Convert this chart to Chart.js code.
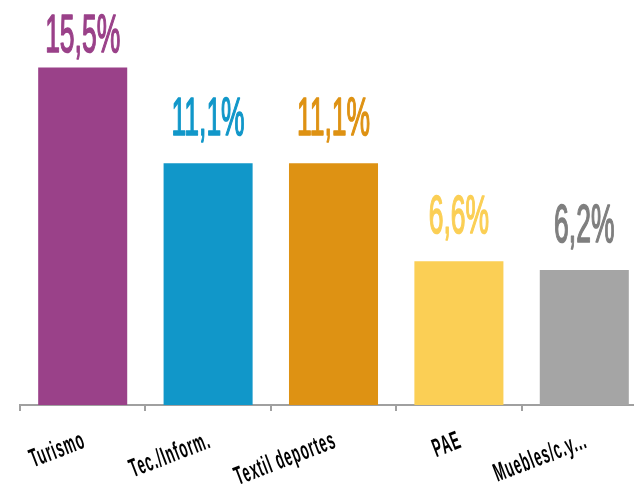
<!DOCTYPE html>
<html>
<head>
<meta charset="utf-8">
<script src="https://cdn.jsdelivr.net/npm/chart.js@4/dist/chart.umd.min.js"></script>
<style>
  html, body { margin: 0; padding: 0; background: #ffffff; overflow: hidden; width: 634px; height: 486px; }
  #wrap { width: 660px; height: 486px; }
</style>
</head>
<body>
<div id="wrap"><canvas id="c" width="660" height="486"></canvas></div>
<script>
const categories = ["Turismo", "Tec./Inform.", "Textil deportes", "PAE", "Muebles/c.y..."];
const values = [15.5, 11.1, 11.1, 6.6, 6.2];
const valueLabels = ["15,5%", "11,1%", "11,1%", "6,6%", "6,2%"];
const barColors = ["#9A4189", "#1197C9", "#DE9213", "#FBCF55", "#A5A5A5"];
const labelColors = ["#9A4189", "#1197C9", "#DE9213", "#FBCF55", "#7F7F7F"];

const labelPlugin = {
  id: 'customLabels',
  afterDatasetsDraw(chart) {
    const ctx = chart.ctx;
    const meta = chart.getDatasetMeta(0);
    const xScale = chart.scales.x;
    // value labels above bars
    meta.data.forEach((bar, i) => {
      const y = Math.max(bar.y - 28, 52);
      ctx.save();
      ctx.translate(bar.x, y);
      ctx.scale(0.5, 1);
      ctx.font = '53px "Liberation Sans", Arial, sans-serif';
      ctx.fillStyle = labelColors[i];
      ctx.strokeStyle = labelColors[i];
      ctx.lineWidth = 1.6;
      ctx.lineJoin = 'round';
      ctx.textAlign = 'center';
      ctx.textBaseline = 'alphabetic';
      ctx.fillText(valueLabels[i], 0, 0);
      ctx.strokeText(valueLabels[i], 0, 0);
      ctx.restore();
    });
    // rotated category labels
    const axisY = xScale.top;
    categories.forEach((cat, i) => {
      const x = xScale.getPixelForTick(i);
      ctx.save();
      ctx.translate(x - 3, axisY + 23);
      ctx.rotate(-21 * Math.PI / 180);
      ctx.scale(0.5, 1);
      ctx.font = 'bold 26px "Liberation Sans", Arial, sans-serif';
      ctx.letterSpacing = '2px';
      ctx.fillStyle = '#000000';
      ctx.textAlign = 'right';
      ctx.textBaseline = 'top';
      ctx.fillText(cat, 0, 0);
      ctx.restore();
    });
  }
};

new Chart(document.getElementById('c'), {
  type: 'bar',
  data: {
    labels: categories,
    datasets: [{
      data: values,
      backgroundColor: barColors,
      borderWidth: 0,
      categoryPercentage: 1.0,
      barPercentage: 0.71
    }]
  },
  options: {
    responsive: false,
    animation: false,
    layout: { padding: { left: 20, right: 13, top: 0, bottom: 75 } },
    plugins: { legend: { display: false }, tooltip: { enabled: false } },
    scales: {
      x: {
        offset: true,
        grid: {
          display: true,
          drawOnChartArea: false,
          drawTicks: true,
          tickLength: 6,
          color: '#A0A0A0',
          lineWidth: 2,
          offset: true
        },
        border: { display: true, color: '#A0A0A0', width: 2 },
        ticks: { display: false }
      },
      y: {
        display: false,
        min: 0,
        max: 18.6
      }
    }
  },
  plugins: [labelPlugin]
});
</script>
</body>
</html>
